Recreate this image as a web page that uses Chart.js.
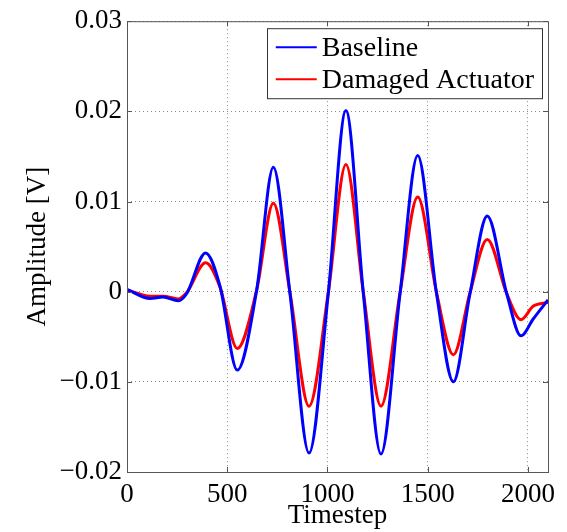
<!DOCTYPE html>
<html>
<head>
<meta charset="utf-8">
<script src="https://cdn.jsdelivr.net/npm/chart.js@4.4.0/dist/chart.umd.min.js"></script>
<style>
  html, body { margin: 0; padding: 0; background: #fff; }
  canvas { display: block; }
</style>
</head>
<body>
<canvas id="chartLite" width="567" height="532"></canvas>
<script>
// values
const timestep = [0, 115, 180, 256, 298, 392, 464, 550, 647, 730, 813, 908, 1004, 1092, 1179, 1267, 1362, 1450, 1544, 1628, 1711, 1797, 1894, 1965, 2027, 2100];
const baseline = [0.00025, -0.00075, -0.0006, -0.001, -0.0002, 0.0043, 0.0006, -0.0087, 0.0002, 0.0138, -0.0002, -0.0179, -0.0002, 0.0201, -0.0002, -0.018, -0.0002, 0.0151, -0.0002, -0.01, -0.0002, 0.0084, -0.0002, -0.0049, -0.003, -0.0009];
const damaged = [0.0002, -0.0005, -0.0005, -0.0008, -0.0001, 0.0032, 0.0005, -0.0063, 0.0002, 0.0098, -0.0001, -0.0127, -0.0001, 0.0141, -0.0001, -0.0127, -0.0001, 0.0105, -0.0001, -0.007, -0.0001, 0.0058, -0.0002, -0.0031, -0.0016, -0.0012];
const seriesLabels = ['Baseline', 'Damaged Actuator'];
const xTicks = [0, 500, 1000, 1500, 2000];
const yTicks = [-0.02, -0.01, 0, 0.01, 0.02, 0.03];

const serif = 'Liberation Serif, Times New Roman, serif';

function pts(ys) {
    return timestep.map((x, i) => ({ x: x, y: ys[i] }));
}

let data = {
    datasets: [{
        label: seriesLabels[0],
        data: pts(baseline),
        borderColor: '#0000ff',
        backgroundColor: '#0000ff',
        borderWidth: 3,
        pointRadius: 0,
        showLine: true,
        fill: false,
        cubicInterpolationMode: 'monotone'
    }, {
        label: seriesLabels[1],
        data: pts(damaged),
        borderColor: '#ff0000',
        backgroundColor: '#ff0000',
        borderWidth: 3,
        pointRadius: 0,
        showLine: true,
        fill: false,
        cubicInterpolationMode: 'monotone'
    }]
};

// box, inward tick marks and the legend inside the plot, like MATLAB
const frame = {
    id: 'frame',
    afterDraw(chart) {
        const { ctx, chartArea: a, scales } = chart;
        ctx.save();
        ctx.strokeStyle = '#555';
        ctx.lineWidth = 1;
        ctx.setLineDash([]);
        ctx.strokeRect(a.left + 0.5, a.top + 0.5, a.width, a.height);
        ctx.beginPath();
        scales.x.ticks.forEach(t => {
            const px = Math.round(scales.x.getPixelForValue(t.value)) + 0.5;
            ctx.moveTo(px, a.bottom); ctx.lineTo(px, a.bottom - 5);
            ctx.moveTo(px, a.top); ctx.lineTo(px, a.top + 5);
        });
        scales.y.ticks.forEach(t => {
            const py = Math.round(scales.y.getPixelForValue(t.value)) + 0.5;
            ctx.moveTo(a.left, py); ctx.lineTo(a.left + 5, py);
            ctx.moveTo(a.right, py); ctx.lineTo(a.right - 5, py);
        });
        ctx.stroke();

        // legend
        ctx.font = '28px ' + serif;
        const sets = chart.data.datasets;
        const tw = Math.max(...sets.map(d => ctx.measureText(d.label).width));
        const w = 9 + 41 + 5 + tw + 8;
        const h = 70;
        const x0 = a.right - 6 - w;
        const y0 = a.top + 7;
        ctx.fillStyle = '#fff';
        ctx.fillRect(x0, y0, w, h);
        ctx.strokeStyle = '#333';
        ctx.strokeRect(Math.round(x0) + 0.5, y0 + 0.5, Math.round(w), h);
        sets.forEach((d, i) => {
            const yy = y0 + 19 + i * 32;
            ctx.strokeStyle = d.borderColor;
            ctx.lineWidth = 2;
            ctx.beginPath();
            ctx.moveTo(x0 + 9, yy); ctx.lineTo(x0 + 50, yy);
            ctx.stroke();
            ctx.fillStyle = '#000';
            ctx.textBaseline = 'middle';
            ctx.fillText(d.label, x0 + 55, yy + 1);
        });
        ctx.restore();
    }
};

let options = {
    responsive: false,
    animation: false,
    layout: { padding: { top: 21, right: 19, left: 0, bottom: 0 } },
    scales: {
        x: {
            type: 'linear',
            min: 0,
            max: 2100,
            afterFit: s => { s.height = 60; },
            afterBuildTicks: s => { s.ticks = xTicks.map(v => ({ value: v })); },
            grid: { color: '#888', drawTicks: false },
            border: { display: false, dash: [1, 3] },
            ticks: { color: '#000', font: { family: serif, size: 27 }, padding: 7, maxRotation: 0, callback: v => String(v) },
            title: { display: true, text: 'Timestep', color: '#000', font: { family: serif, size: 27 }, padding: { top: 0, bottom: 0 } }
        },
        y: {
            min: -0.02,
            max: 0.03,
            afterFit: s => { s.width = 127; },
            afterBuildTicks: s => { s.ticks = yTicks.map(v => ({ value: v })); },
            grid: { color: '#888', drawTicks: false },
            border: { display: false, dash: [1, 3] },
            ticks: {
                color: '#000',
                font: { family: serif, size: 27 },
                padding: 5,
                callback: v => Math.abs(v) < 1e-9 ? '0' : v.toFixed(2).replace('-', '\u2212')
            },
            title: { display: true, text: 'Amplitude [V]', color: '#000', font: { family: serif, size: 27 }, padding: { top: 22, bottom: 0 } }
        }
    },
    plugins: {
        legend: { display: false },
        tooltip: { enabled: false }
    }
};

const ctx = document.getElementById("chartLite").getContext("2d");
const myChart = new Chart(ctx, {
    type: 'scatter',
    data: data,
    options: options,
    plugins: [frame]
});
</script>
</body>
</html>
